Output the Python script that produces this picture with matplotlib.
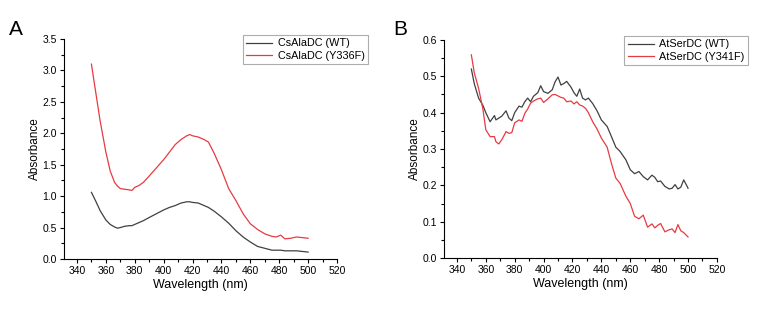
import numpy as np
import matplotlib
matplotlib.use('Agg')
import matplotlib.pyplot as plt
from matplotlib.ticker import MultipleLocator

plt.rcParams['font.family'] = ['Liberation Sans', 'DejaVu Sans']

# Panel A: CsAlaDC
wl_a = [350, 353, 356, 360, 363, 366, 368, 370, 373, 376, 378, 380, 383, 386, 390, 395, 400, 404,
        408, 412, 416, 418, 420, 424, 428, 431, 435, 440, 445, 450, 455, 460, 465, 470, 475, 478,
        481, 484, 488, 492, 496, 500]
wt_a = [1.06, 0.92, 0.77, 0.62, 0.55, 0.51, 0.49, 0.50, 0.52, 0.53, 0.53, 0.55, 0.58, 0.61, 0.66,
        0.72, 0.78, 0.82, 0.85, 0.89, 0.91, 0.91, 0.90, 0.89, 0.85, 0.82, 0.76, 0.67, 0.57, 0.45,
        0.35, 0.27, 0.20, 0.17, 0.14, 0.14, 0.14, 0.13, 0.13, 0.13, 0.12, 0.11]
mut_a = [3.10, 2.65, 2.20, 1.70, 1.40, 1.22, 1.16, 1.12, 1.11, 1.10, 1.09, 1.14, 1.17, 1.22, 1.32,
         1.45, 1.58, 1.70, 1.82, 1.90, 1.96, 1.98, 1.96, 1.94, 1.90, 1.86, 1.68, 1.42, 1.12, 0.93,
         0.72, 0.56, 0.47, 0.40, 0.36, 0.35, 0.38, 0.32, 0.33, 0.35, 0.34, 0.33]

# Panel B: AtSerDC
wl_b = [350, 352, 355, 358, 360, 363, 366, 367, 369, 371, 373, 374, 376, 378, 380, 383, 385, 387,
        389, 391, 393, 396, 398, 400, 403, 406, 408, 410, 412, 414, 416, 419, 421, 423, 425, 427,
        429, 431, 434, 437, 440, 444, 447, 450, 453, 457, 460, 463, 466, 469, 472, 475, 477, 479,
        481, 484, 487, 489, 491, 493, 495, 497, 499, 500]
wt_b = [0.52, 0.48, 0.44, 0.42, 0.40, 0.375, 0.392, 0.38, 0.385, 0.39, 0.40, 0.405, 0.385, 0.378,
        0.40, 0.418, 0.415, 0.43, 0.44, 0.43, 0.445, 0.455, 0.474, 0.458, 0.453, 0.463, 0.485, 0.498,
        0.476, 0.48, 0.486, 0.47, 0.455, 0.445, 0.465, 0.44, 0.435, 0.44, 0.425, 0.405, 0.38, 0.362,
        0.334, 0.305, 0.293, 0.27, 0.243, 0.232, 0.238, 0.224, 0.215, 0.228, 0.222, 0.21, 0.212,
        0.197, 0.19, 0.192, 0.202, 0.19, 0.195, 0.215, 0.20, 0.192]
mut_b = [0.559, 0.51, 0.467, 0.41, 0.353, 0.334, 0.334, 0.32, 0.314, 0.325, 0.34, 0.348, 0.343,
         0.345, 0.372, 0.38, 0.376, 0.398, 0.41, 0.426, 0.432, 0.438, 0.44, 0.428, 0.438, 0.449,
         0.45, 0.446, 0.442, 0.44, 0.43, 0.432, 0.424, 0.43, 0.421, 0.418, 0.412, 0.40, 0.375,
         0.355, 0.33, 0.305, 0.26, 0.22, 0.205, 0.17, 0.15, 0.115, 0.108, 0.118, 0.085, 0.094, 0.083,
         0.09, 0.095, 0.072, 0.078, 0.08, 0.07, 0.092, 0.075, 0.07, 0.062, 0.058]

grey = '#404040'
red = '#e83a42'

fig = plt.figure(figsize=(7.68, 3.17), dpi=100)
ax1 = fig.add_axes([0.0833, 0.183, 0.3555, 0.694])
ax2 = fig.add_axes([0.578, 0.186, 0.3555, 0.688])

panels = [
    (ax1, wl_a, wt_a, mut_a, 'CsAlaDC (WT)', 'CsAlaDC (Y336F)', 3.5, 0.5, 'A', 0.012),
    (ax2, wl_b, wt_b, mut_b, 'AtSerDC (WT)', 'AtSerDC (Y341F)', 0.6, 0.1, 'B', 0.512),
]

for ax, wl, wt, mut, lab1, lab2, ytop, ystep, letter, lx in panels:
    ax.plot(wl, wt, color=grey, lw=0.9, label=lab1)
    ax.plot(wl, mut, color=red, lw=0.9, label=lab2)
    ax.set_xlim(331, 520)
    ax.set_ylim(0, ytop)
    ax.xaxis.set_major_locator(MultipleLocator(20))
    ax.xaxis.set_minor_locator(MultipleLocator(10))
    ax.yaxis.set_major_locator(MultipleLocator(ystep))
    ax.yaxis.set_minor_locator(MultipleLocator(ystep / 2))
    ax.spines['top'].set_visible(False)
    ax.spines['right'].set_visible(False)
    for s in ['left', 'bottom']:
        ax.spines[s].set_linewidth(0.8)
    ax.tick_params(which='major', direction='out', length=3, width=0.8, labelsize=7.5, pad=2)
    ax.tick_params(which='minor', direction='out', length=2, width=0.8)
    ax.set_xlabel('Wavelength (nm)', fontsize=9, labelpad=2)
    ax.set_ylabel('Absorbance', fontsize=8.5, labelpad=1)
    leg = ax.legend(loc='upper right', bbox_to_anchor=(1.115, 1.02), fontsize=7.8, frameon=True,
                    fancybox=False, edgecolor='#999999', handlelength=2.4, borderpad=0.35,
                    labelspacing=0.2, handletextpad=0.5, borderaxespad=0)
    leg.get_frame().set_linewidth(0.8)
    fig.text(lx, 0.89, letter, fontsize=15)

fig.savefig('out.png', dpi=100)
